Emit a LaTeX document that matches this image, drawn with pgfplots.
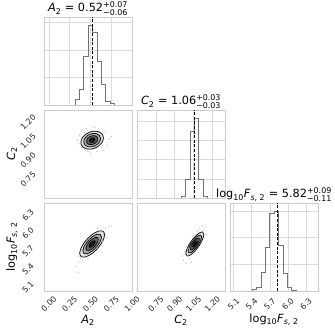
\documentclass[border=0pt]{standalone}
\usepackage{fontspec}
\setmainfont{DejaVu Sans}
\usepackage{amsmath}
\usepackage{pgfplots}
\pgfplotsset{compat=1.18}

\definecolor{framegray}{gray}{0.80}
\definecolor{gridgray}{gray}{0.86}
\definecolor{histgray}{gray}{0.45}
\definecolor{dotgray}{gray}{0.72}

\pgfplotsset{
  corner/.style={
    scale only axis, width=88pt, height=88pt,
    axis line style={framegray, line width=0.6pt},
    major tick length=0pt,
    tick label style={font=\fontsize{8}{9}\selectfont, text=black!85},
    xticklabel style={yshift=-13pt, rotate=45, anchor=center},
    yticklabel style={xshift=-16pt, rotate=45, anchor=center},
    every axis x label/.style={at={(axis description cs:0.5,0)}, yshift=-29pt, anchor=center, font=\fontsize{11.3}{13}\selectfont},
    every axis y label/.style={at={(axis description cs:0,0.5)}, xshift=-32pt, rotate=90, anchor=center, font=\fontsize{11.3}{13}\selectfont},
    every axis title/.style={at={(axis description cs:0.5,1)}, anchor=south, inner sep=0pt, yshift=1pt, font=\fontsize{11.3}{13}\selectfont},
    grid style={gridgray, line width=0.5pt},
  },
  hist/.style={corner, ymin=0, ymax=1.1, yticklabels={}, grid=major},
  histline/.style={histgray, line width=0.6pt, const plot, mark=none},
  median/.style={black, line width=1pt, dash pattern=on 3pt off 1.6pt, mark=none},
  dots/.style={only marks, mark=*, mark size=0.35pt, dotgray},
  lev2/.style={fill=black!12, draw=black, line width=0.7pt, smooth cycle},
  lev15/.style={fill=black!35, draw=black, line width=0.7pt, smooth cycle},
  lev1/.style={fill=black!60, draw=black, line width=0.7pt, smooth cycle},
  lev05/.style={fill=black!88, draw=black, line width=0.7pt, smooth cycle},
}

\begin{document}
\begin{tikzpicture}
\useasboundingbox (0,0) rectangle (335pt,335pt);

% ---- row 0: A2 histogram
\begin{axis}[hist, at={(44pt,230pt)},
    xmin=-0.06, xmax=1.0, xtick={0,0.25,0.5,0.75,1}, xticklabels={},
    ytick={0.344,0.688,1.032},
    title={\textit{A}$_{\text{2}}$ = 0.52$^{\text{+0.07}}_{\text{−0.06}}$}]
\addplot[histline] coordinates {
  (0.311,0) (0.311,0.07) (0.364,0.19) (0.417,0.61) (0.470,1.00) (0.523,0.91)
  (0.576,0.55) (0.629,0.26) (0.682,0.04) (0.735,0.02) (0.788,0)};
\addplot[median] coordinates {(0.52,0) (0.52,1.1)};
\end{axis}

% ---- row 1: A2 vs C2
\begin{axis}[corner, at={(44pt,137pt)},
    xmin=-0.06, xmax=1.0, ymin=0.6, ymax=1.3,
    xtick={0,0.25,0.5,0.75,1}, xticklabels={},
    ytick={0.75,0.9,1.05,1.2}, yticklabels={0.75,0.90,1.05,1.20},
    ylabel={\textit{C}$_{\text{2}}$}]
\addplot[dots] coordinates {
  (0.34,1.06) (0.37,1.10) (0.40,1.14) (0.45,1.15) (0.60,1.15) (0.68,1.12)
  (0.72,1.07) (0.70,1.02) (0.66,0.98) (0.58,0.97) (0.47,0.97) (0.39,1.00)
  (0.36,1.03) (0.55,1.16) (0.75,1.09) (0.50,0.95) (0.43,1.12) (0.63,1.00)};
\addplot[lev2] coordinates {
  (0.656,1.078) (0.638,1.110) (0.588,1.129) (0.520,1.130) (0.452,1.111) (0.402,1.079)
  (0.384,1.042) (0.402,1.010) (0.452,0.991) (0.520,0.990) (0.588,1.009) (0.638,1.041)};
\addplot[lev15] coordinates {
  (0.622,1.0735) (0.608,1.0978) (0.571,1.112) (0.520,1.112) (0.469,1.0985) (0.432,1.0744)
  (0.418,1.0465) (0.432,1.0222) (0.469,1.008) (0.520,1.0077) (0.571,1.0215) (0.608,1.0456)};
\addplot[lev1] coordinates {
  (0.588,1.069) (0.579,1.0852) (0.554,1.0947) (0.520,1.0948) (0.486,1.0857) (0.461,1.0696)
  (0.452,1.051) (0.461,1.0348) (0.486,1.0253) (0.520,1.0252) (0.554,1.0343) (0.579,1.0504)};
\addplot[lev05] coordinates {
  (0.554,1.0645) (0.549,1.0726) (0.537,1.0773) (0.520,1.0774) (0.503,1.0728) (0.491,1.0648)
  (0.486,1.0555) (0.491,1.0474) (0.503,1.0427) (0.520,1.0426) (0.537,1.0472) (0.549,1.0552)};
\end{axis}

% ---- row 1: C2 histogram
\begin{axis}[hist, at={(137pt,137pt)},
    xmin=0.6, xmax=1.3, xtick={0.75,0.9,1.05,1.2}, xticklabels={},
    ytick={0.24,0.48,0.72,0.96},
    title={\textit{C}$_{\text{2}}$ = 1.06$^{\text{+0.03}}_{\text{−0.03}}$}]
\addplot[histline] coordinates {
  (0.950,0) (0.950,0.025) (0.985,0.23) (1.020,0.83) (1.055,1.00) (1.090,0.23)
  (1.125,0.025) (1.160,0)};
\addplot[median] coordinates {(1.06,0) (1.06,1.1)};
\end{axis}

% ---- row 2: A2 vs log10 F
\begin{axis}[corner, at={(44pt,44pt)},
    xmin=-0.06, xmax=1.0, ymin=5.04, ymax=6.5,
    xtick={0,0.25,0.5,0.75,1}, xticklabels={0.00,0.25,0.50,0.75,1.00},
    ytick={5.1,5.4,5.7,6.0,6.3}, yticklabels={5.1,5.4,5.7,6.0,6.3},
    xlabel={\textit{A}$_{\text{2}}$},
    ylabel={log$_{\text{10}}$\textit{F}$_{\text{\textit{s}, 2}}$}]
\addplot[dots] coordinates {
  (0.33,5.45) (0.36,5.52) (0.38,5.58) (0.41,5.55) (0.36,5.62) (0.40,5.70)
  (0.47,5.58) (0.62,6.05) (0.68,6.08) (0.72,6.10) (0.75,6.12) (0.66,5.98)
  (0.70,5.92) (0.58,6.08) (0.43,5.82) (0.35,5.35) (0.64,5.86) (0.55,5.65)};
\addplot[lev2] coordinates {
  (0.670,5.974) (0.650,6.032) (0.595,6.033) (0.520,5.977) (0.445,5.879) (0.390,5.765)
  (0.370,5.666) (0.390,5.608) (0.445,5.607) (0.520,5.663) (0.595,5.761) (0.650,5.875)};
\addplot[lev15] coordinates {
  (0.6325,5.9355) (0.617,5.979) (0.576,5.980) (0.520,5.938) (0.464,5.864) (0.423,5.779)
  (0.4075,5.7045) (0.423,5.661) (0.464,5.660) (0.520,5.702) (0.576,5.776) (0.617,5.861)};
\addplot[lev1] coordinates {
  (0.595,5.897) (0.585,5.926) (0.5575,5.9265) (0.520,5.8985) (0.4825,5.8495) (0.455,5.7926)
  (0.445,5.743) (0.455,5.714) (0.4825,5.7135) (0.520,5.7415) (0.5575,5.7905) (0.585,5.8474)};
\addplot[lev05] coordinates {
  (0.5575,5.8585) (0.5525,5.873) (0.539,5.873) (0.520,5.859) (0.501,5.835) (0.4875,5.806)
  (0.4825,5.7815) (0.4875,5.767) (0.501,5.767) (0.520,5.781) (0.539,5.805) (0.5525,5.834)};
\end{axis}

% ---- row 2: C2 vs log10 F
\begin{axis}[corner, at={(137pt,44pt)},
    xmin=0.6, xmax=1.3, ymin=5.04, ymax=6.5,
    xtick={0.75,0.9,1.05,1.2}, xticklabels={0.75,0.90,1.05,1.20},
    ytick={5.1,5.4,5.7,6.0,6.3}, yticklabels={},
    xlabel={\textit{C}$_{\text{2}}$}]
\addplot[dots] coordinates {
  (0.97,5.55) (0.99,5.50) (1.00,5.62) (1.02,5.58) (1.03,5.52) (0.98,5.70)
  (1.01,5.75) (1.13,6.05) (1.14,6.10) (1.12,6.12) (1.10,6.08) (1.15,5.98)
  (1.09,5.68) (1.04,5.95) (1.08,6.04) (0.96,5.62)};
\addplot[lev2] coordinates {
  (1.132,5.980) (1.122,6.019) (1.096,6.004) (1.060,5.940) (1.024,5.844) (0.998,5.741)
  (0.988,5.660) (0.998,5.621) (1.024,5.636) (1.060,5.700) (1.096,5.796) (1.122,5.899)};
\addplot[lev15] coordinates {
  (1.114,5.940) (1.1068,5.969) (1.087,5.958) (1.060,5.910) (1.033,5.838) (1.0132,5.761)
  (1.006,5.700) (1.0132,5.671) (1.033,5.682) (1.060,5.730) (1.087,5.802) (1.1068,5.879)};
\addplot[lev1] coordinates {
  (1.096,5.900) (1.0912,5.919) (1.078,5.912) (1.060,5.880) (1.042,5.832) (1.0288,5.781)
  (1.024,5.740) (1.0288,5.721) (1.042,5.728) (1.060,5.760) (1.078,5.808) (1.0912,5.859)};
\addplot[lev05] coordinates {
  (1.078,5.860) (1.0756,5.8697) (1.069,5.866) (1.060,5.850) (1.051,5.826) (1.0444,5.8004)
  (1.042,5.780) (1.0444,5.7704) (1.051,5.774) (1.060,5.790) (1.069,5.814) (1.0756,5.8297)};
\end{axis}

% ---- row 2: log10 F histogram
\begin{axis}[hist, at={(230pt,44pt)},
    xmin=5.04, xmax=6.5, xtick={5.1,5.4,5.7,6.0,6.3}, xticklabels={5.1,5.4,5.7,6.0,6.3},
    ytick={0.333,0.667,1.0},
    xlabel={log$_{\text{10}}$\textit{F}$_{\text{\textit{s}, 2}}$},
    title={log$_{\text{10}}$\textit{F}$_{\text{\textit{s}, 2}}$ = 5.82$^{\text{+0.09}}_{\text{−0.11}}$}]
\addplot[histline] coordinates {
  (5.405,0) (5.405,0.02) (5.478,0.05) (5.551,0.24) (5.624,0.55) (5.697,0.97)
  (5.770,1.00) (5.843,0.57) (5.916,0.22) (5.989,0.05) (6.062,0.015) (6.135,0)};
\addplot[median] coordinates {(5.82,0) (5.82,1.1)};
\end{axis}
\end{tikzpicture}
\end{document}
